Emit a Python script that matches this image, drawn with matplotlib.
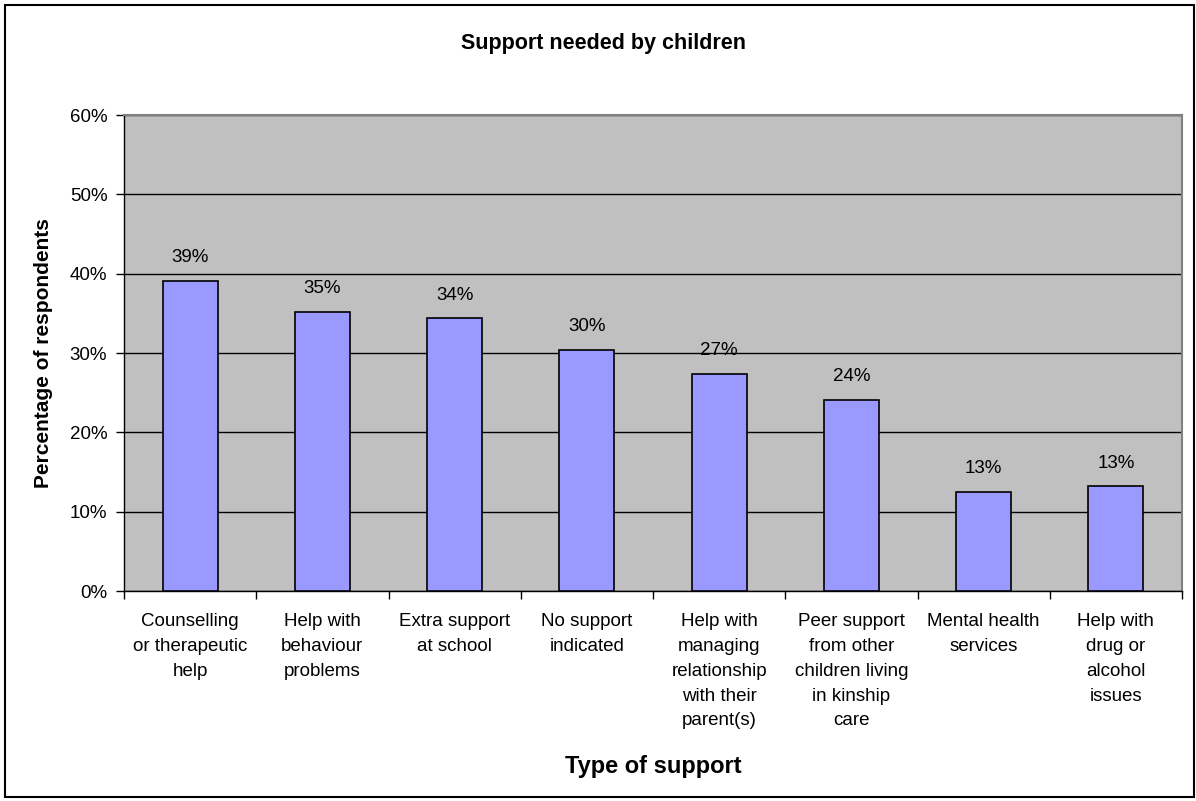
import matplotlib
matplotlib.use("Agg")
import matplotlib.pyplot as plt
from matplotlib.patches import Rectangle
import numpy as np

categories = [
    "Counselling\nor therapeutic\nhelp",
    "Help with\nbehaviour\nproblems",
    "Extra support\nat school",
    "No support\nindicated",
    "Help with\nmanaging\nrelationship\nwith their\nparent(s)",
    "Peer support\nfrom other\nchildren living\nin kinship\ncare",
    "Mental health\nservices",
    "Help with\ndrug or\nalcohol\nissues",
]
values = [39.1, 35.2, 34.4, 30.4, 27.4, 24.1, 12.5, 13.2]
value_labels = ["39%", "35%", "34%", "30%", "27%", "24%", "13%", "13%"]
yticks = [0, 10, 20, 30, 40, 50, 60]
ytick_labels = ["0%", "10%", "20%", "30%", "40%", "50%", "60%"]

plt.rcParams['font.family'] = ['Liberation Sans', 'DejaVu Sans']

W, H = 1196, 801
fig = plt.figure(figsize=(W/100, H/100), dpi=100)
fig.patch.set_facecolor('white')
fig.patches.append(Rectangle((5/W, 4/H), (1194-5)/W, (796-4)/H, transform=fig.transFigure,
                             fill=False, edgecolor='black', linewidth=1.5, zorder=0))

left, right, top, bottom = 124, 1182, 115, 591
ax = fig.add_axes([left/W, 1-bottom/H, (right-left)/W, (bottom-top)/H])
ax.set_facecolor('#C0C0C0')

x = np.arange(len(categories))
ax.bar(x, values, width=0.415, color='#9999FF', edgecolor='black', linewidth=1.2, zorder=3)
for xi, v, lab in zip(x, values, value_labels):
    ax.text(xi, v + 2.9, lab, ha='center', va='center', fontsize=13.5, zorder=4)

ax.set_xlim(-0.5, len(categories) - 0.5)
ax.set_ylim(0, 60)
ax.set_yticks(yticks)
ax.set_yticklabels(ytick_labels, fontsize=13.5)
ax.yaxis.grid(True, color='black', linewidth=1)
ax.set_axisbelow(True)

ax.set_xticks(np.arange(len(categories) + 1) - 0.5)
ax.set_xticklabels([])
ax.set_xticks(x, minor=True)
ax.set_xticklabels(categories, minor=True, fontsize=13.5, linespacing=1.6, va='top')
ax.tick_params(axis='x', which='minor', length=0, pad=16)
ax.tick_params(axis='x', which='major', length=6, direction='out', width=1)
ax.tick_params(axis='y', length=6, direction='out', width=1, pad=6)

for s in ['top', 'right']:
    ax.spines[s].set_color('#808080')
    ax.spines[s].set_linewidth(1.5)
for s in ['left', 'bottom']:
    ax.spines[s].set_color('black')
    ax.spines[s].set_linewidth(1)

ax.set_ylabel("Percentage of respondents", fontsize=15, fontweight='bold', labelpad=12)
fig.text(0.5 * (left + right) / W, 1 - 766/H, "Type of support", ha='center', va='center',
         fontsize=17, fontweight='bold')
fig.text(603/W, 1 - 44/H, "Support needed by children", ha='center', va='center',
         fontsize=15.5, fontweight='bold')

fig.savefig("out.png", dpi=100)
